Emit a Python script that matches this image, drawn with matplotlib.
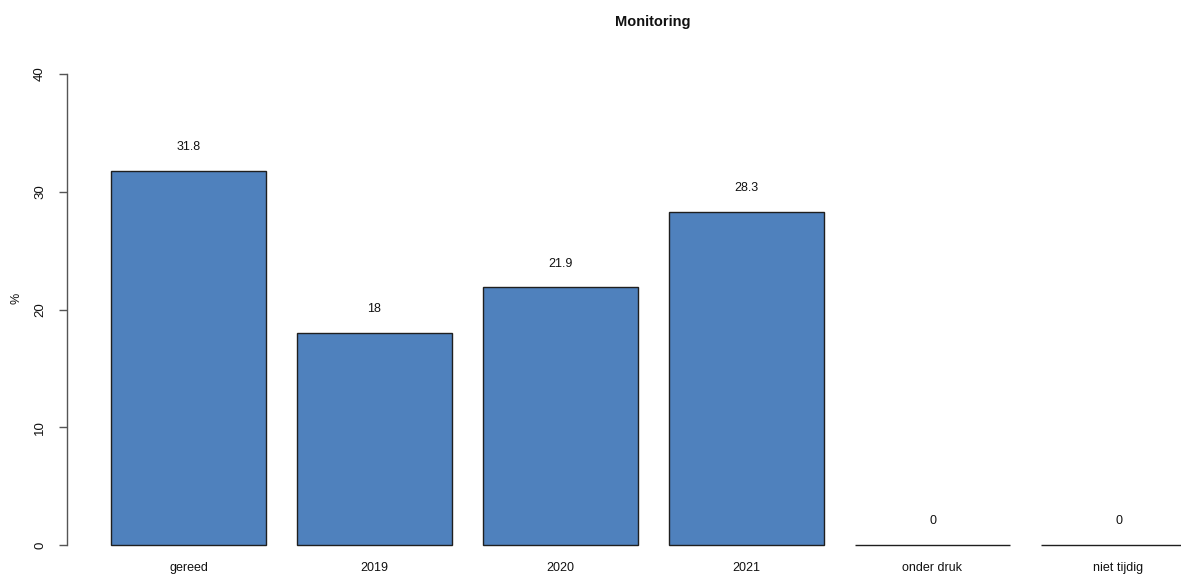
import matplotlib
matplotlib.use("Agg")
import matplotlib.pyplot as plt

categories = ["gereed", "2019", "2020", "2021", "onder druk", "niet tijdig"]
values = [31.8, 18, 21.9, 28.3, 0, 0]
value_labels = ["31.8", "18", "21.9", "28.3", "0", "0"]
yticks = [0, 10, 20, 30, 40]

plt.rcParams['font.family'] = ['Liberation Sans', 'DejaVu Sans']

W, H = 1181, 575
fig = plt.figure(figsize=(W / 100, H / 100), dpi=100)
ax = fig.add_axes([0, 0, 1, 1])

# pixel mapping (R barplot: width 1, space 0.2)
px_per_x = 155.0
x0_px = 80.0
ax.set_xlim(-x0_px / px_per_x, (W - x0_px) / px_per_x)
y0_px, y40_px = 545.0, 74.0
py = (y0_px - y40_px) / 40.0
ax.set_ylim(-(H - y0_px) / py, 40 + y40_px / py)

centers = [0.7 + 1.2 * i for i in range(len(categories))]
ax.bar(centers, values, width=1.0, color="#4f81bd", edgecolor="#1f1f1f",
       linewidth=1.0, zorder=2)

for c, v, lab in zip(centers, values, value_labels):
    ax.text(c, v + 2, lab, ha="center", va="center", fontsize=9, color="#111111")

for c, lab in zip(centers, categories):
    ax.text(c, -(568 - y0_px) / py, lab, ha="center", va="center", fontsize=9,
            color="#111111")

for s in ["top", "right", "bottom"]:
    ax.spines[s].set_visible(False)
ax.spines["left"].set_position(("data", (67 - x0_px) / px_per_x))
ax.spines["left"].set_bounds(0, 40)
ax.spines["left"].set_color("#555555")
ax.spines["left"].set_linewidth(1.0)
ax.set_xticks([])
ax.set_yticks(yticks)
ax.set_yticklabels([str(t) for t in yticks], rotation=90, va="center",
                   fontsize=9.5, color="#111111")
ax.tick_params(axis="y", direction="out", length=6, width=1.0, color="#555555", pad=9)
ax.patch.set_alpha(0)

fig.text(16 / W, 1 - 298 / H, "%", rotation=90, ha="center", va="center",
         fontsize=9, color="#111111")
fig.text(653 / W, 1 - 22 / H, "Monitoring", ha="center", va="center",
         fontsize=10.5, fontweight="bold", color="#111111")

fig.savefig("out.png", dpi=100)
